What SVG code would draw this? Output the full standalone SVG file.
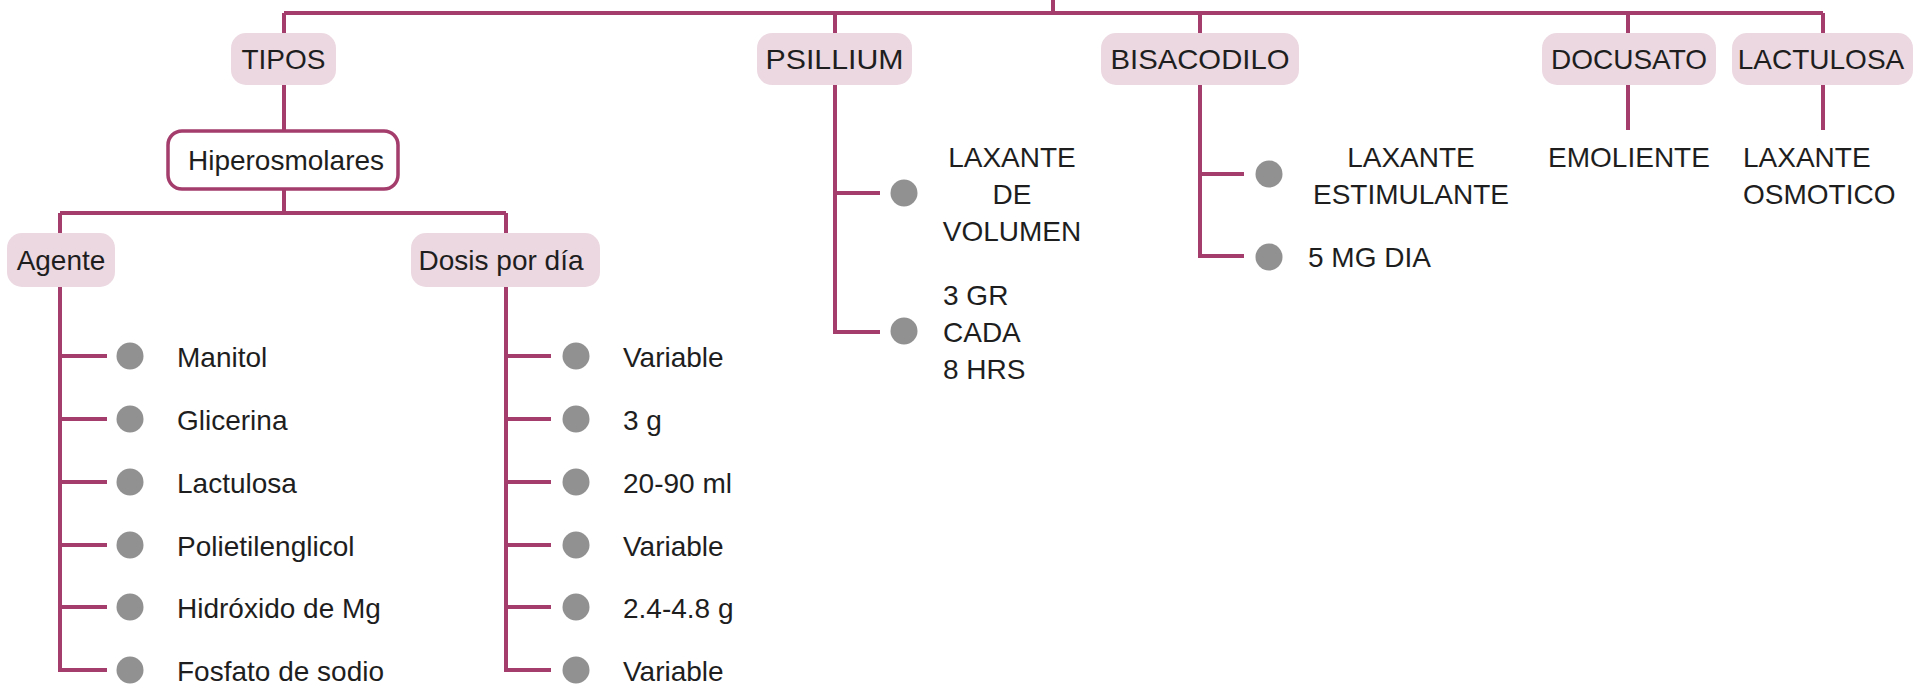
<svg xmlns="http://www.w3.org/2000/svg" width="1913" height="686" viewBox="0 0 1913 686">
<style>
.ln{fill:none;stroke:#A43C6C;stroke-width:4;stroke-linecap:butt;stroke-linejoin:miter}
.box{fill:#ECD8E1}
.wbox{fill:#FFFFFF;stroke:#A43C6C;stroke-width:3.5}
.dot{fill:#919191}
.t{font-family:"Liberation Sans",Arial,sans-serif;font-size:28px;fill:#1E1E1E}
.c{text-anchor:middle}
</style>
<rect width="1913" height="686" fill="#FFFFFF"/>
<g id="connectors">
<path class="ln" d="M1053,0 V13 M284,13 H1823 M284,13 V33 M835,13 V33 M1200,13 V33 M1628,13 V33 M1823,13 V33"/>
<path class="ln" d="M284,85 V131 M284,189 V213 M60,213 H506 M60,213 V233 M506,213 V233"/>
<path class="ln" d="M60,287 V670 H107 M60,356 H107 M60,419 H107 M60,482 H107 M60,545 H107 M60,607 H107"/>
<path class="ln" d="M506,287 V670 H551 M506,356 H551 M506,419 H551 M506,482 H551 M506,545 H551 M506,607 H551"/>
<path class="ln" d="M835,85 V332 H880 M835,193 H880"/>
<path class="ln" d="M1200,85 V256 H1244 M1200,174 H1244"/>
<path class="ln" d="M1628,85 V130 M1823,85 V130"/>
</g>
<g id="tipos"><rect class="box" x="231" y="33" width="105" height="52" rx="15"/><text class="t c" x="283.5" y="69">TIPOS</text></g>
<g id="psillium"><rect class="box" x="757" y="33" width="155" height="52" rx="15"/><text class="t c" x="834.5" y="69" textLength="138" lengthAdjust="spacingAndGlyphs">PSILLIUM</text></g>
<g id="bisacodilo"><rect class="box" x="1101" y="33" width="198" height="52" rx="15"/><text class="t c" x="1200" y="69" textLength="179" lengthAdjust="spacingAndGlyphs">BISACODILO</text></g>
<g id="docusato"><rect class="box" x="1542" y="33" width="174" height="52" rx="15"/><text class="t c" x="1629" y="69">DOCUSATO</text></g>
<g id="lactulosa"><rect class="box" x="1732" y="33" width="181" height="52" rx="15"/><text class="t c" x="1821" y="69">LACTULOSA</text></g>
<g id="hiperosmolares"><rect class="wbox" x="168" y="131" width="230" height="58" rx="14"/><text class="t c" x="286" y="170">Hiperosmolares</text></g>
<g id="agente"><rect class="box" x="7" y="233" width="108" height="54" rx="15"/><text class="t c" x="61" y="270">Agente</text></g>
<g id="dosis"><rect class="box" x="411" y="233" width="189" height="54" rx="15"/><text class="t c" x="501" y="270">Dosis por día</text></g>
<g id="agente-items">
<g id="a1"><circle class="dot" cx="130" cy="356" r="13.5"/><text class="t" x="177" y="367">Manitol</text></g>
<g id="a2"><circle class="dot" cx="130" cy="419" r="13.5"/><text class="t" x="177" y="430">Glicerina</text></g>
<g id="a3"><circle class="dot" cx="130" cy="482" r="13.5"/><text class="t" x="177" y="493">Lactulosa</text></g>
<g id="a4"><circle class="dot" cx="130" cy="545" r="13.5"/><text class="t" x="177" y="556">Polietilenglicol</text></g>
<g id="a5"><circle class="dot" cx="130" cy="607" r="13.5"/><text class="t" x="177" y="618">Hidróxido de Mg</text></g>
<g id="a6"><circle class="dot" cx="130" cy="670" r="13.5"/><text class="t" x="177" y="681">Fosfato de sodio</text></g>
</g>
<g id="dosis-items">
<g id="d1"><circle class="dot" cx="576" cy="356" r="13.5"/><text class="t" x="623" y="367">Variable</text></g>
<g id="d2"><circle class="dot" cx="576" cy="419" r="13.5"/><text class="t" x="623" y="430">3 g</text></g>
<g id="d3"><circle class="dot" cx="576" cy="482" r="13.5"/><text class="t" x="623" y="493">20-90 ml</text></g>
<g id="d4"><circle class="dot" cx="576" cy="545" r="13.5"/><text class="t" x="623" y="556">Variable</text></g>
<g id="d5"><circle class="dot" cx="576" cy="607" r="13.5"/><text class="t" x="623" y="618">2.4-4.8 g</text></g>
<g id="d6"><circle class="dot" cx="576" cy="670" r="13.5"/><text class="t" x="623" y="681">Variable</text></g>
</g>
<g id="psillium-items">
<g id="p1"><circle class="dot" cx="904" cy="193" r="13.5"/><text class="t c" x="1012" y="167">LAXANTE</text><text class="t c" x="1012" y="204">DE</text><text class="t c" x="1012" y="241">VOLUMEN</text></g>
<g id="p2"><circle class="dot" cx="904" cy="331" r="13.5"/><text class="t" x="943" y="305">3 GR</text><text class="t" x="943" y="342">CADA</text><text class="t" x="943" y="379">8 HRS</text></g>
</g>
<g id="bisacodilo-items">
<g id="b1"><circle class="dot" cx="1269" cy="174" r="13.5"/><text class="t c" x="1411" y="167">LAXANTE</text><text class="t c" x="1411" y="204">ESTIMULANTE</text></g>
<g id="b2"><circle class="dot" cx="1269" cy="257" r="13.5"/><text class="t" x="1308" y="267">5 MG DIA</text></g>
</g>
<g id="emoliente"><text class="t c" x="1629" y="167">EMOLIENTE</text></g>
<g id="laxante-osmotico"><text class="t" x="1743" y="167">LAXANTE</text><text class="t" x="1743" y="204">OSMOTICO</text></g>
</svg>
